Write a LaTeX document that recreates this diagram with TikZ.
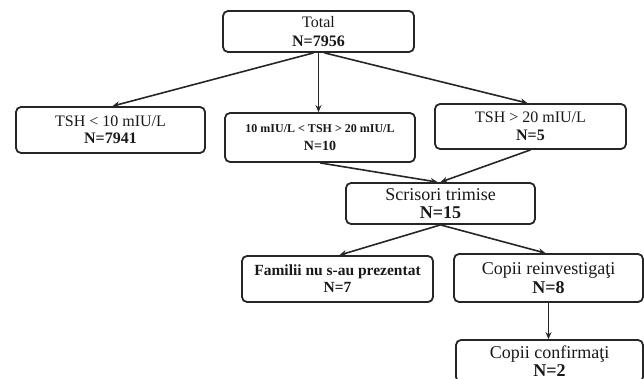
\documentclass[tikz,border=0pt]{standalone}
\usepackage{fontspec}
\setmainfont{Liberation Serif}
\usetikzlibrary{arrows.meta}
\begin{document}
\begin{tikzpicture}[x=1pt,y=-1pt,
  box/.style={draw=black!85, line width=1.8pt, rounded corners=5pt, align=center, inner sep=0pt, text=black!90,
    font=\fontsize{16}{18.5}\selectfont},
  arr/.style={draw=black!85, line width=1.6pt, -{Stealth[length=7pt,width=6pt]}}]
\useasboundingbox (0,0) rectangle (644,379);
\clip (0,0) rectangle (644,379);
\node[box, minimum width=191pt, minimum height=41pt] (total) at (318.5,31.5) {Total\\\textbf{N=7956}};
\node[box, minimum width=189pt, minimum height=46pt, font=\fontsize{16}{16.8}\selectfont] (low) at (110.5,130) {TSH < 10 mIU/L\\\textbf{N=7941}};
\node[box, minimum width=190pt, minimum height=49pt, font=\fontsize{14}{18}\selectfont] (mid) at (320,137.5) {{\fontsize{12}{14}\selectfont\bfseries 10 mIU/L < TSH > 20 mIU/L}\\\textbf{N=10}};
\node[box, minimum width=191pt, minimum height=45pt] (high) at (530.5,126.5) {TSH > 20 mIU/L\\\textbf{N=5}};
\node[box, minimum width=189pt, minimum height=41pt, font=\fontsize{18}{18}\selectfont] (scr) at (440.5,203.5) {Scrisori trimise\\\textbf{N=15}};
\node[box, minimum width=191pt, minimum height=46pt, font=\fontsize{15.5}{16.8}\selectfont\bfseries] (fam) at (337.5,279) {Familii nu s-au prezentat\\N=7};
\node[box, minimum width=189pt, minimum height=48pt, font=\fontsize{18}{19.5}\selectfont] (reinv) at (548.5,278) {Copii reinvestigaţi\\\textbf{N=8}};
\node[box, minimum width=187pt, minimum height=42pt, font=\fontsize{18}{18}\selectfont] (conf) at (549.5,361) {Copii confirmaţi\\\textbf{N=2}};
\draw[arr] ([xshift=-5pt]total.south) -- ([xshift=2pt]low.north);
\draw[arr] (total.south) -- (total.south |- mid.north);
\draw[arr] ([xshift=6pt]total.south) -- ([xshift=-3pt]high.north);
\draw[arr] (mid.south) -- ([xshift=-3pt]scr.north);
\draw[arr] (high.south) -- (scr.north);
\draw[arr] (scr.south) -- ([xshift=2pt]fam.north);
\draw[arr] (scr.south) -- ([xshift=-3pt]reinv.north);
\draw[arr] (reinv.south) -- (reinv.south |- conf.north);
\end{tikzpicture}
\end{document}
